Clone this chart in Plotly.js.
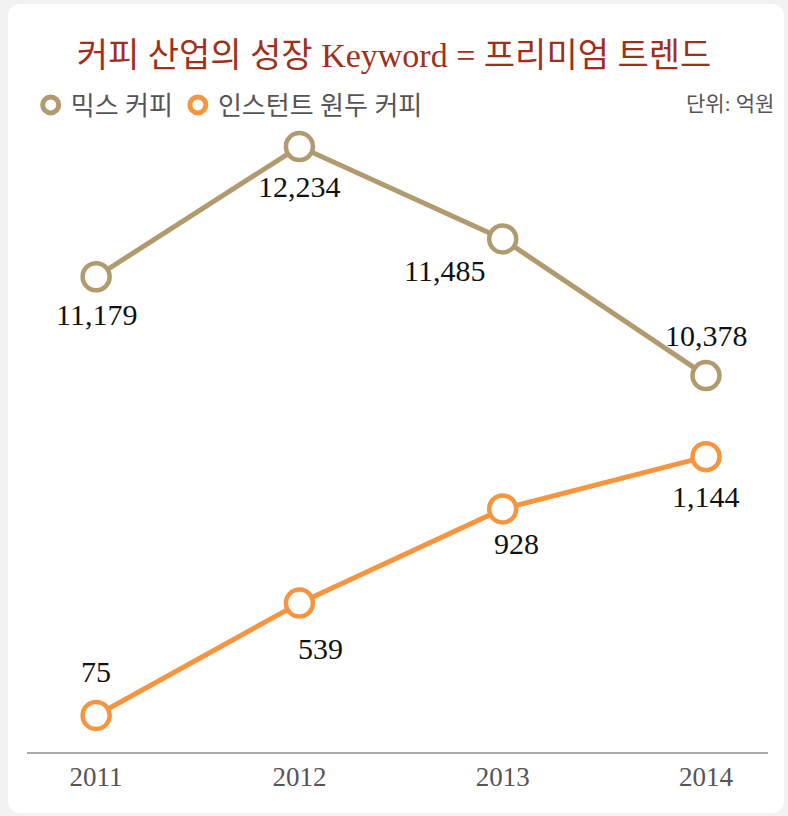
<!DOCTYPE html>
<html>
<head>
<meta charset="utf-8">
<script src="https://cdn.plot.ly/plotly-3.0.1.min.js"></script>
<style>
  html, body { margin: 0; padding: 0; background: #f2f2f2; }
  #card { position: absolute; left: 8px; top: 4px; width: 776px; height: 809px; background: #ffffff; border-radius: 12px; }
  #chart { position: absolute; left: 0; top: 0; width: 788px; height: 816px; }
</style>
</head>
<body>
<div id="card"></div>
<div id="chart"></div>
<script>
// ---- data ----
const years = ['2011', '2012', '2013', '2014'];
const mixCoffee = [11179, 12234, 11485, 10378];
const instantCoffee = [75, 539, 928, 1144];
const seriesNames = ['믹스 커피', '인스턴트 원두 커피'];
const titleText = '커피 산업의 성장 Keyword = 프리미엄 트렌드';
const unitText = '단위: 억원';

// ---- styles ----
const mixColor = '#b19b6e';
const instColor = '#f7943f';
const serif = '"Liberation Serif", "Noto Sans CJK KR", serif';
const korean = '"Liberation Serif", "Noto Sans CJK KR", sans-serif';
const mixLabelShift = [[0, -38], [0, -40], [-58, -32], [0, 40]];
const instLabelShift = [[0, 44], [21, -45], [14, -35], [0, -40]];

function fmt(v) { return v.toLocaleString('en-US'); }

const markerStyle = (c) => ({ symbol: 'circle', size: 27, color: '#ffffff', line: { color: c, width: 4.5 } });

const traces = [
  { x: years, y: mixCoffee, yaxis: 'y', type: 'scatter', mode: 'lines+markers', name: seriesNames[0],
    line: { color: mixColor, width: 5 }, marker: markerStyle(mixColor), showlegend: false, cliponaxis: false, hoverinfo: 'x+y' },
  { x: years, y: instantCoffee, yaxis: 'y2', type: 'scatter', mode: 'lines+markers', name: seriesNames[1],
    line: { color: instColor, width: 5 }, marker: markerStyle(instColor), showlegend: false, cliponaxis: false, hoverinfo: 'x+y' },
  // legend-only entries (marker only, like the reference legend)
  { x: [null], y: [null], type: 'scatter', mode: 'markers', name: seriesNames[0],
    marker: { symbol: 'circle', size: 16, color: '#ffffff', line: { color: mixColor, width: 5 } }, showlegend: true },
  { x: [null], y: [null], type: 'scatter', mode: 'markers', name: seriesNames[1],
    marker: { symbol: 'circle', size: 16, color: '#ffffff', line: { color: instColor, width: 5 } }, showlegend: true }
];

const annotations = [];
mixCoffee.forEach((v, i) => annotations.push({
  x: i, y: v, xref: 'x', yref: 'y', text: fmt(v), showarrow: false,
  xshift: mixLabelShift[i][0], yshift: mixLabelShift[i][1],
  font: { family: serif, size: 30, color: '#111111' }
}));
instantCoffee.forEach((v, i) => annotations.push({
  x: i, y: v, xref: 'x', yref: 'y2', text: fmt(v), showarrow: false,
  xshift: instLabelShift[i][0], yshift: instLabelShift[i][1],
  font: { family: serif, size: 30, color: '#111111' }
}));
annotations.push({
  text: unitText, xref: 'paper', yref: 'paper', x: 1.0, y: 1.0, xanchor: 'right', yanchor: 'middle',
  xshift: 8, yshift: 36, showarrow: false, font: { family: korean, size: 21, color: '#555555' }
});

const layout = {
  width: 788, height: 816,
  paper_bgcolor: 'rgba(0,0,0,0)', plot_bgcolor: 'rgba(0,0,0,0)',
  margin: { l: 27, r: 20, t: 140, b: 64 },
  title: { text: titleText, x: 0.5, xanchor: 'center', y: 1 - 55 / 816, yanchor: 'middle',
           font: { family: korean, size: 34, color: '#a0301b' } },
  showlegend: true,
  legend: { orientation: 'h', x: 0.005, xanchor: 'left', y: 1 + 35 / 612, yanchor: 'middle', yref: 'paper',
            font: { family: korean, size: 26, color: '#555555' }, bgcolor: 'rgba(0,0,0,0)', itemwidth: 30,
            tracegroupgap: 0 },
  xaxis: { type: 'category', categoryorder: 'array', categoryarray: years, range: [-0.34, 3.305],
           showline: true, linecolor: '#aaaaaa', linewidth: 2, showgrid: false, zeroline: false,
           ticks: '', tickfont: { family: serif, size: 27, color: '#555555' }, fixedrange: true },
  yaxis: { range: [7328, 12287], visible: false, fixedrange: true },
  yaxis2: { range: [-76, 2452], overlaying: 'y', visible: false, fixedrange: true },
  annotations: annotations
};

Plotly.newPlot('chart', traces, layout, { staticPlot: true });
</script>
</body>
</html>
